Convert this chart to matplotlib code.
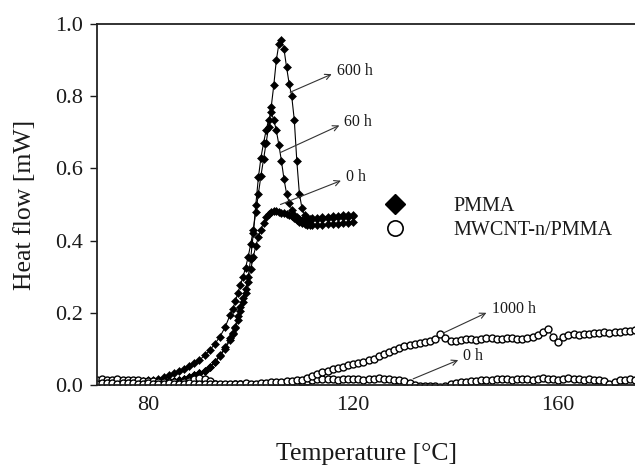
import numpy as np
import matplotlib
matplotlib.use("Agg")
import matplotlib.pyplot as plt
from matplotlib.lines import Line2D

plt.rcParams['font.family'] = ['Liberation Serif', 'DejaVu Serif']

# ---------------- data ----------------
# PMMA sampling temperatures
T_pmma = np.concatenate([np.arange(70, 96, 1.0), np.arange(96, 112.5, 0.5), np.arange(113, 121, 1.0)])

pmma_base_600 = [0.005, 0.005, 0.005, 0.005, 0.006, 0.007, 0.008, 0.009, 0.010, 0.012,
                 0.013, 0.015, 0.018, 0.022, 0.027, 0.032, 0.038, 0.045, 0.052, 0.060,
                 0.069, 0.082, 0.096, 0.114, 0.134, 0.160]
pmma_mid_600 = [0.195, 0.210, 0.232, 0.255, 0.278, 0.300, 0.325, 0.355, 0.390, 0.430,
                0.480, 0.530, 0.580, 0.625, 0.670, 0.715, 0.770, 0.830, 0.900, 0.945,
                0.955, 0.930, 0.880, 0.835, 0.800, 0.735, 0.620, 0.530, 0.490, 0.472,
                0.463, 0.460, 0.462]
pmma_end_600 = [0.463, 0.465, 0.466, 0.468, 0.469, 0.470, 0.471, 0.472]
pmma_600h = pmma_base_600 + pmma_mid_600 + pmma_end_600

pmma_base_60 = [0.003, 0.003, 0.003, 0.003, 0.003, 0.004, 0.004, 0.004, 0.005, 0.005,
                0.006, 0.006, 0.007, 0.008, 0.010, 0.012, 0.015, 0.018, 0.022, 0.027,
                0.032, 0.040, 0.050, 0.065, 0.082, 0.105]
pmma_mid_60 = [0.130, 0.145, 0.162, 0.190, 0.215, 0.240, 0.265, 0.300, 0.350, 0.420,
               0.500, 0.575, 0.630, 0.670, 0.705, 0.735, 0.755, 0.735, 0.705, 0.665,
               0.620, 0.570, 0.530, 0.505, 0.486, 0.472, 0.465, 0.460, 0.458, 0.457,
               0.457, 0.458, 0.459]
pmma_end_60 = [0.460, 0.461, 0.462, 0.463, 0.464, 0.465, 0.466, 0.467]
pmma_60h = pmma_base_60 + pmma_mid_60 + pmma_end_60

pmma_base_0 = [0.003, 0.003, 0.003, 0.003, 0.003, 0.004, 0.004, 0.004, 0.005, 0.005,
               0.006, 0.006, 0.007, 0.008, 0.010, 0.012, 0.015, 0.018, 0.022, 0.027,
               0.032, 0.040, 0.050, 0.063, 0.080, 0.100]
pmma_mid_0 = [0.125, 0.140, 0.157, 0.180, 0.205, 0.230, 0.255, 0.285, 0.320, 0.355,
              0.385, 0.410, 0.430, 0.450, 0.465, 0.474, 0.480, 0.482, 0.481, 0.479,
              0.477, 0.476, 0.475, 0.472, 0.468, 0.462, 0.456, 0.452, 0.448, 0.445,
              0.443, 0.442, 0.442]
pmma_end_0 = [0.443, 0.444, 0.445, 0.446, 0.447, 0.449, 0.450, 0.451]
pmma_0h = pmma_base_0 + pmma_mid_0 + pmma_end_0

# MWCNT-n/PMMA sampling temperatures
T_cnt = np.arange(70, 176, 1.0)
cnt_0h = [0.015, 0.016, 0.014, 0.015, 0.017, 0.014, 0.013, 0.015, 0.014, 0.012, 0.011,
          0.010, 0.009, 0.008, 0.008, 0.007, 0.006, 0.008, 0.012, 0.018, 0.020,
          0.016, 0.010, 0.002, -0.004, -0.003, 0.000, 0.002, 0.003, 0.001, 0.000,
          -0.002, -0.002, 0.000, 0.002, 0.004, 0.003, 0.001, 0.003, 0.006, 0.009,
          0.012, 0.014, 0.016, 0.017, 0.018, 0.016, 0.015, 0.017, 0.018, 0.017,
          0.016, 0.015, 0.016, 0.018, 0.019, 0.017, 0.016, 0.015, 0.014, 0.012,
          0.005, 0.000, -0.003, -0.004, -0.002, -0.004, -0.006, -0.002, 0.002, 0.005,
          0.007, 0.008, 0.010, 0.012, 0.013, 0.014, 0.015, 0.016, 0.017, 0.016,
          0.015, 0.017, 0.018, 0.016, 0.015, 0.017, 0.019, 0.018, 0.016, 0.015,
          0.017, 0.019, 0.018, 0.016, 0.015, 0.016, 0.015, 0.013, 0.010, 0.002,
          0.008, 0.013, 0.015, 0.016, 0.015]
cnt_1000h = [0.004, 0.005, 0.006, 0.005, 0.004, 0.005, 0.006, 0.005, 0.004, 0.004, 0.005,
             0.004, 0.003, 0.004, 0.005, 0.004, 0.003, 0.004, 0.005, 0.004, 0.004,
             0.003, 0.002, 0.003, 0.004, 0.003, 0.002, 0.003, 0.004, 0.005, 0.004,
             0.004, 0.005, 0.006, 0.007, 0.008, 0.009, 0.010, 0.012, 0.013, 0.015,
             0.020, 0.025, 0.030, 0.035, 0.039, 0.043, 0.047, 0.051, 0.055, 0.058,
             0.061, 0.064, 0.068, 0.073, 0.079, 0.085, 0.092, 0.098, 0.103, 0.107,
             0.111, 0.114, 0.117, 0.120, 0.123, 0.128, 0.140, 0.130, 0.122, 0.123,
             0.125, 0.127, 0.128, 0.126, 0.127, 0.130, 0.131, 0.128, 0.127, 0.129,
             0.131, 0.128, 0.127, 0.130, 0.132, 0.138, 0.148, 0.156, 0.132, 0.120,
             0.132, 0.138, 0.140, 0.139, 0.141, 0.142, 0.143, 0.144, 0.146, 0.145,
             0.146, 0.148, 0.149, 0.150, 0.151]

x_ticks = [80, 120, 160]
y_ticks = [0.0, 0.2, 0.4, 0.6, 0.8, 1.0]
legend_labels = ["PMMA", "MWCNT-n/PMMA"]

# annotations: (label, arrow tail (x, y), arrow head (x, y))
annotations = [
    ("600 h", (107.7, 0.811), (115.8, 0.861)),
    ("60 h", (105.8, 0.644), (117.3, 0.719)),
    ("0 h", (105.8, 0.500), (117.6, 0.566)),
    ("1000 h", (137.6, 0.144), (146.0, 0.200)),
    ("0 h", (131.7, 0.017), (140.5, 0.069)),
]

# ---------------- plot ----------------
ink = "#1a1a1a"
fig = plt.figure(figsize=(6.35, 4.67), dpi=100)
ax = fig.add_axes([97 / 635, 1 - 385 / 467, 1 - 97 / 635, (385 - 24) / 467])

for y in (pmma_0h, pmma_60h, pmma_600h):
    ax.plot(T_pmma, y, color="black", lw=0.8, marker="D", ms=3.8,
            mfc="black", mec="black", mew=0.4)
for y in (cnt_0h, cnt_1000h):
    ax.plot(T_cnt, y, color="black", lw=0.6, marker="o", ms=5.0,
            mfc="white", mec="black", mew=1.0)

for label, tail, head in annotations:
    ax.annotate("", xy=head, xytext=tail,
                arrowprops=dict(arrowstyle="->", color="#333333", lw=0.8,
                                shrinkA=0, shrinkB=0, mutation_scale=10))
    ax.text(head[0] + 1.0, head[1] + 0.01, label, fontsize=11.5, color=ink,
            ha="left", va="center")

ax.set_xlim(70, 175)
ax.set_ylim(0.0, 1.0)
ax.set_xticks(x_ticks)
ax.set_yticks(y_ticks)
ax.set_yticklabels([f"{v:.1f}" for v in y_ticks])
ax.tick_params(axis="both", labelsize=16, colors=ink, length=5, width=1.0, direction="out")
ax.tick_params(axis="x", pad=8, length=0)
ax.tick_params(axis="y", pad=5)
ax.spines["right"].set_visible(False)
for s in ("left", "top", "bottom"):
    ax.spines[s].set_linewidth(1.3)
    ax.spines[s].set_color("#222222")

ax.set_xlabel("Temperature [°C]", fontsize=18.5, color=ink, labelpad=20)
ax.set_ylabel("Heat flow [mW]", fontsize=18.5, color=ink, labelpad=14)

handles = [Line2D([], [], ls="none", marker="D", ms=10.5, mfc="black", mec="black"),
           Line2D([], [], ls="none", marker="o", ms=11, mfc="white", mec="black", mew=1.2)]
leg = ax.legend(handles, legend_labels, loc="center left", bbox_to_anchor=(0.535, 0.461),
                frameon=False, fontsize=14.5, handlelength=1.0, handletextpad=2.4,
                labelspacing=0.25, borderpad=0, borderaxespad=0)
for t in leg.get_texts():
    t.set_color(ink)

fig.savefig("out.png", dpi=100)
